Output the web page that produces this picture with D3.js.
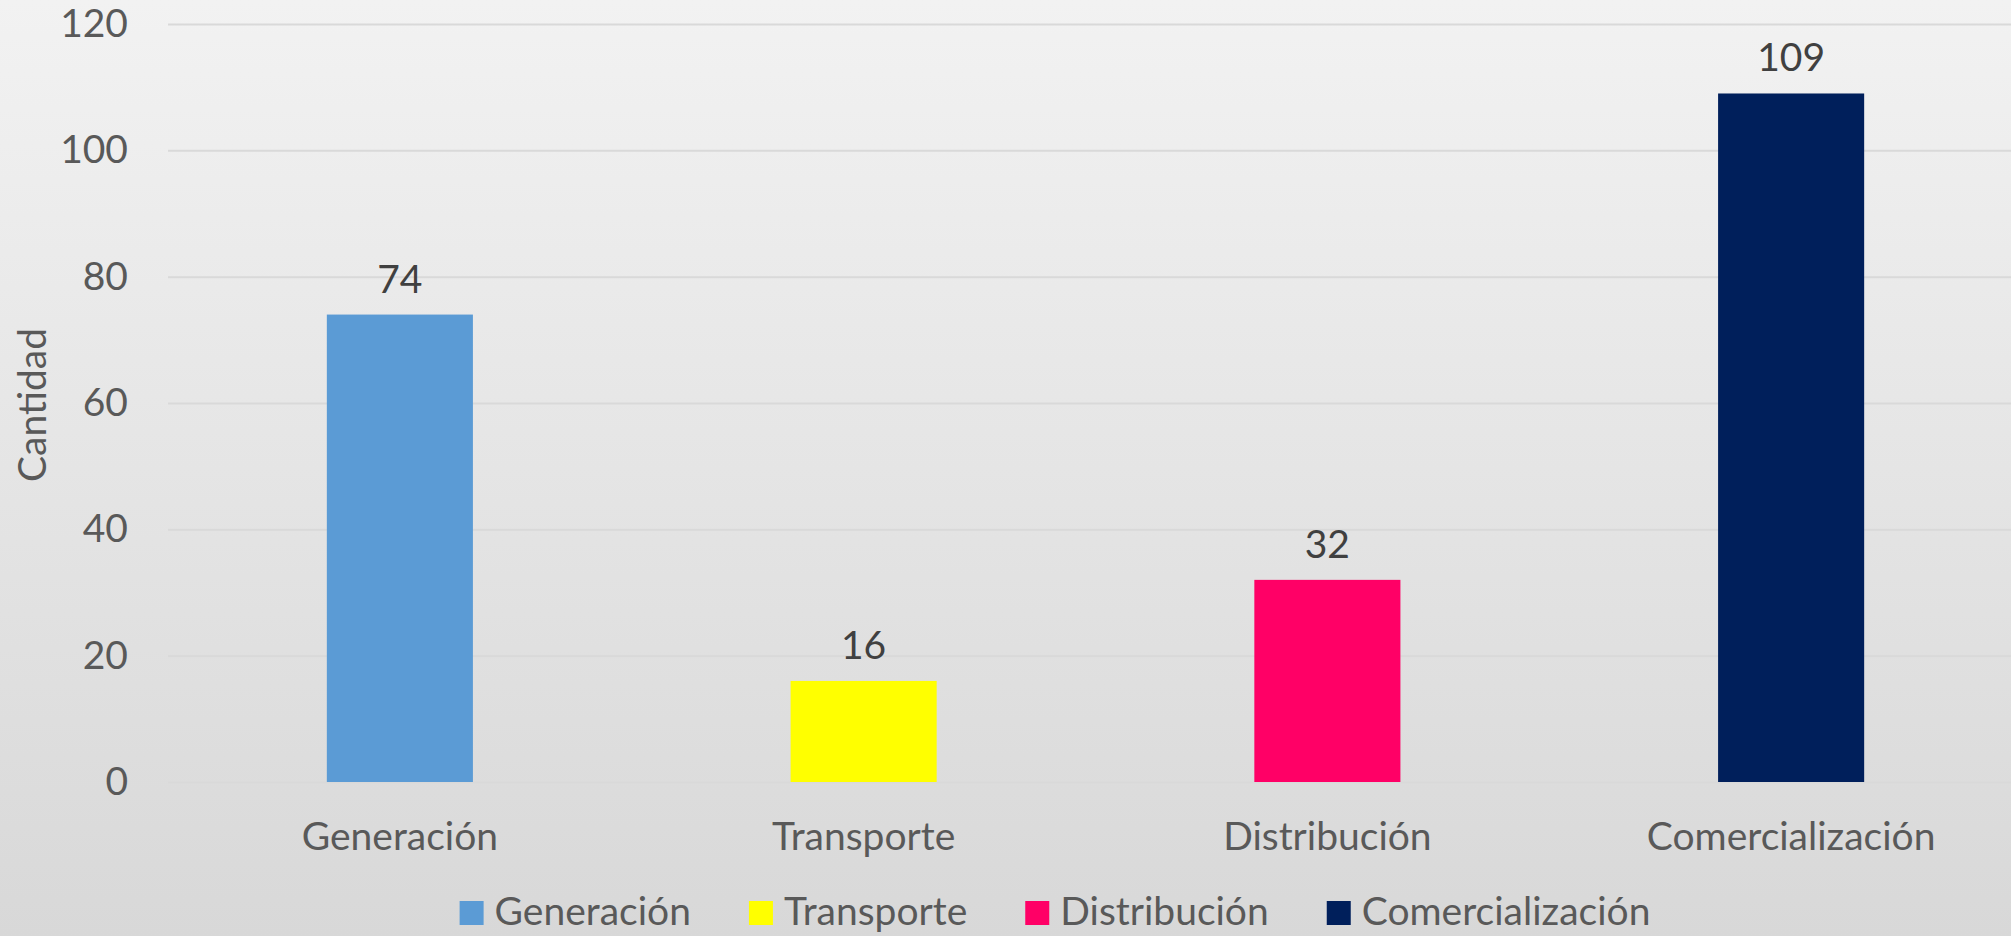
<!DOCTYPE html>
<html>
<head>
<meta charset="utf-8">
<script src="https://cdn.jsdelivr.net/npm/d3@7"></script>
<style>
  html, body { margin: 0; padding: 0; }
  body { width: 2011px; height: 936px; overflow: hidden; }
  text { font-family: Lato, "Open Sans", sans-serif; }
</style>
</head>
<body>
<div id="chart"></div>
<script>
// Data
const categories = ["Generación", "Transporte", "Distribución", "Comercialización"];
const values = [74, 16, 32, 109];
const colors = ["#5B9BD5", "#FFFF00", "#FF0066", "#001F5B"];
const yTicks = [0, 20, 40, 60, 80, 100, 120];

const width = 2011;
const height = 936;
const fontSize = "39px";

const svg = d3.select("#chart")
  .append("svg")
  .attr("width", width)
  .attr("height", height);

// background gradient
const grad = svg.append("defs").append("linearGradient")
  .attr("id", "bg")
  .attr("x1", 0).attr("y1", 0).attr("x2", 0).attr("y2", 1);
grad.append("stop").attr("offset", "0%").attr("stop-color", "#f2f2f2");
grad.append("stop").attr("offset", "100%").attr("stop-color", "#d8d8d8");

svg.append("rect")
  .attr("width", width)
  .attr("height", height)
  .attr("fill", "url(#bg)");

const plotLeft = 168, plotRight = 2023, plotTop = 24, plotBottom = 782;

const x = d3.scaleBand()
  .domain(categories)
  .range([plotLeft, plotRight])
  .paddingInner(0.685)
  .paddingOuter(0.3425);

const y = d3.scaleLinear()
  .domain([0, 120])
  .range([plotBottom, plotTop]);

// gridlines
const grid = svg.append("g")
  .attr("transform", `translate(${plotLeft},0)`)
  .call(d3.axisLeft(y).tickValues(yTicks).tickSize(-(plotRight - plotLeft)).tickFormat(""));
grid.select(".domain").remove();
grid.selectAll("line").attr("stroke", "#d9d9d9").attr("stroke-width", 2);

// y axis labels
const yAxis = svg.append("g")
  .attr("transform", `translate(${plotLeft},0)`)
  .call(d3.axisLeft(y).tickValues(yTicks).tickSize(0).tickPadding(40));
yAxis.select(".domain").remove();
yAxis.selectAll("text")
  .attr("fill", "#595959")
  .style("font-size", fontSize);

// bars
svg.selectAll(".bar")
  .data(values)
  .join("rect")
  .attr("class", "bar")
  .attr("x", (d, i) => x(categories[i]))
  .attr("y", d => y(d))
  .attr("width", x.bandwidth())
  .attr("height", d => y(0) - y(d))
  .attr("fill", (d, i) => colors[i]);

// value labels
svg.selectAll(".val")
  .data(values)
  .join("text")
  .attr("class", "val")
  .attr("x", (d, i) => x(categories[i]) + x.bandwidth() / 2)
  .attr("y", d => y(d) - 22)
  .attr("text-anchor", "middle")
  .attr("fill", "#404040")
  .style("font-size", fontSize)
  .text(d => d);

// category labels
svg.selectAll(".cat")
  .data(categories)
  .join("text")
  .attr("class", "cat")
  .attr("x", d => x(d) + x.bandwidth() / 2)
  .attr("y", 850)
  .attr("text-anchor", "middle")
  .attr("fill", "#595959")
  .style("font-size", fontSize)
  .text(d => d);

// y title
svg.append("text")
  .attr("transform", "translate(46,405) rotate(-90)")
  .attr("text-anchor", "middle")
  .attr("fill", "#595959")
  .style("font-size", fontSize)
  .text("Cantidad");

// legend
const legend = svg.append("g");
const items = legend.selectAll("g")
  .data(categories)
  .join("g");
items.append("rect")
  .attr("width", 24)
  .attr("height", 24)
  .attr("y", 901)
  .attr("fill", (d, i) => colors[i]);
items.append("text")
  .attr("x", 35)
  .attr("y", 925)
  .attr("fill", "#595959")
  .style("font-size", fontSize)
  .text(d => d);

let pos = 0;
const offsets = [];
items.each(function () {
  offsets.push(pos);
  const w = d3.select(this).select("text").node().getComputedTextLength();
  pos += 35 + w + 58;
});
const total = pos - 58;
const startX = 1055 - total / 2;
items.attr("transform", (d, i) => `translate(${startX + offsets[i]},0)`);
</script>
</body>
</html>
